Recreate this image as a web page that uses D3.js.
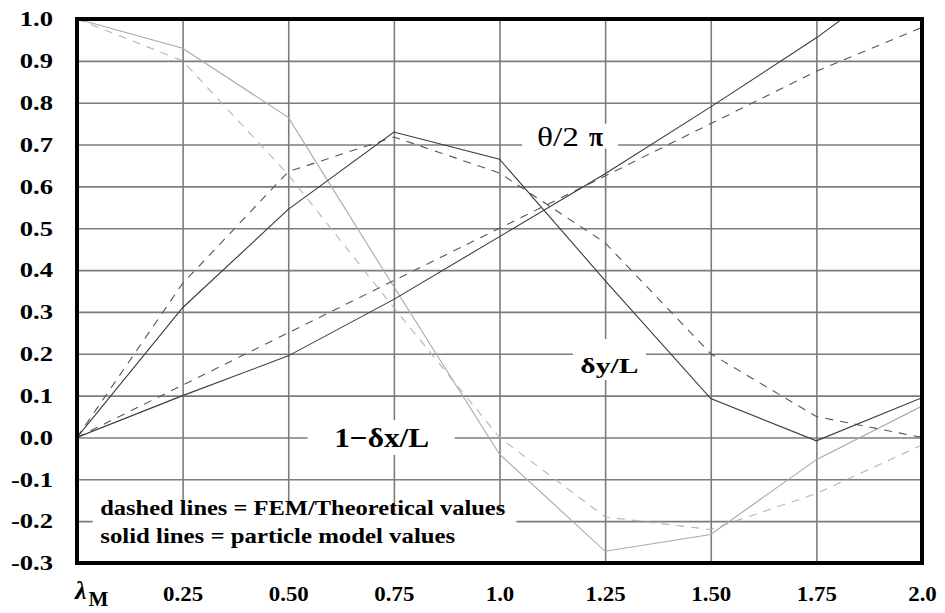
<!DOCTYPE html>
<html>
<head>
<meta charset="utf-8">
<script src="https://cdn.jsdelivr.net/npm/d3@7"></script>
<style>
  body { margin: 0; background: #fff; }
</style>
</head>
<body>
<script>
const width = 945, height = 613;
const margin = { left: 77, right: 23, top: 19, bottom: 50 };
const serif = "Liberation Serif";

// lambda_M values along x
const lambda = [0, 0.25, 0.5, 0.75, 1.0, 1.25, 1.5, 1.75, 2.0];
// theta / 2 pi
const thetaParticle = [0, 0.10, 0.195, 0.33, 0.48, 0.63, 0.79, 0.955, 1.14];
const thetaFEM = [0, 0.125, 0.25, 0.375, 0.5, 0.625, 0.75, 0.875, 0.98];
// delta y / L
const dyParticle = [0, 0.31, 0.545, 0.73, 0.665, 0.375, 0.093, -0.008, 0.095];
const dyFEM = [0, 0.368, 0.635, 0.718, 0.632, 0.465, 0.2, 0.05, 0.0];
// 1 - delta x / L
const dxParticle = [1.0, 0.93, 0.765, 0.36, -0.04, -0.272, -0.232, -0.053, 0.075];
const dxFEM = [1.0, 0.9, 0.628, 0.31, 0.0, -0.19, -0.22, -0.134, -0.018];

const xTicks = [0.25, 0.5, 0.75, 1.0, 1.25, 1.5, 1.75, 2.0];
const xLabels = ["0.25", "0.50", "0.75", "1.0", "1.25", "1.50", "1.75", "2.0"];
const yTicks = [1.0, 0.9, 0.8, 0.7, 0.6, 0.5, 0.4, 0.3, 0.2, 0.1, 0.0, -0.1, -0.2, -0.3];
const yLabels = ["1.0", "0.9", "0.8", "0.7", "0.6", "0.5", "0.4", "0.3", "0.2", "0.1", "0.0", "-0.1", "-0.2", "-0.3"];

const legendLines = ["dashed lines = FEM/Theoretical values", "solid lines = particle model values"];

const pw = width - margin.left - margin.right, ph = height - margin.top - margin.bottom;

const svg = d3.select("body").append("svg")
    .attr("width", width)
    .attr("height", height);

const x = d3.scaleLinear().domain([0, 2]).range([0, pw]);
const y = d3.scaleLinear().domain([-0.3, 1.0]).range([ph, 0]);

const g = svg.append("g").attr("transform", `translate(${margin.left},${margin.top})`);

svg.append("defs").append("clipPath").attr("id", "plotclip")
    .append("rect").attr("x", 0).attr("y", 0).attr("width", pw).attr("height", ph);

// grid + tick labels
const yAxis = g.append("g")
    .call(d3.axisLeft(y).tickValues(yTicks).tickFormat((d, i) => yLabels[i]).tickSize(-pw).tickPadding(0));
const xAxis = g.append("g")
    .attr("transform", `translate(0,${ph})`)
    .call(d3.axisBottom(x).tickValues(xTicks).tickFormat((d, i) => xLabels[i]).tickSize(-ph).tickPadding(22));

[yAxis, xAxis].forEach(a => {
    a.attr("font-family", serif).attr("font-weight", "bold");
    a.select(".domain").remove();
    a.selectAll(".tick line").attr("stroke", "#7c7c7c").attr("stroke-width", 1.6);
});
yAxis.selectAll(".tick text")
    .attr("x", null).attr("dy", "0.34em")
    .attr("transform", "translate(-24,0) scale(1.33,1)")
    .attr("font-size", 20).attr("fill", "#000");
xAxis.selectAll(".tick text")
    .attr("transform", "scale(1.04,1)")
    .attr("font-size", 22).attr("fill", "#000");

// label boxes knocking out the grid
function labelBox(cx, cy, w, h) {
    g.append("rect")
        .attr("x", x(cx) - w / 2).attr("y", y(cy) - h / 2)
        .attr("width", w).attr("height", h)
        .attr("fill", "#fff");
}
labelBox(1.167, 0.72, 96, 25);
labelBox(1.26, 0.186, 73, 41);
labelBox(0.72, 0.0, 147, 35);
g.append("rect")
    .attr("x", x(0.037)).attr("y", y(-0.18))
    .attr("width", x(1.04) - x(0.037)).attr("height", ph - y(-0.18))
    .attr("fill", "#fff");

// curves
const line = d3.line().x((d, i) => x(lambda[i])).y(d => y(d));
const series = [
    { v: dxFEM, color: "#b4b4b4", dash: "8,7" },
    { v: dxParticle, color: "#a8a8a8", dash: null },
    { v: thetaFEM, color: "#555", dash: "8,7" },
    { v: thetaParticle, color: "#3a3a3a", dash: null },
    { v: dyFEM, color: "#555", dash: "8,7" },
    { v: dyParticle, color: "#3a3a3a", dash: null }
];
const lines = g.append("g").attr("clip-path", "url(#plotclip)");
series.forEach(s => {
    lines.append("path")
        .datum(s.v)
        .attr("d", line)
        .attr("fill", "none")
        .attr("stroke", s.color)
        .attr("stroke-width", 1.1)
        .attr("stroke-dasharray", s.dash);
});

// curve labels
function label(px, cy, size, len, weight, txt) {
    return g.append("text")
        .attr("x", px).attr("y", y(cy))
        .attr("dy", "0.34em")
        .attr("textLength", len).attr("lengthAdjust", "spacingAndGlyphs")
        .attr("font-family", serif).attr("font-size", size).attr("font-weight", weight)
        .text(txt);
}
label(x(1.167) - 33, 0.72, 28, 42, "normal", "θ/2");
label(x(1.167) + 19, 0.72, 28, 14, "bold", "π");
label(x(1.26) - 29, 0.17, 21, 58, "bold", "δy/L");
label(x(0.72) - 47, 0.0, 28, 95, "bold", "1−δx/L");

// legend
const legendLen = [405, 355];
legendLines.forEach((t, i) => {
    g.append("text")
        .attr("x", x(0.055)).attr("y", y(-0.185) + i * 28)
        .attr("textLength", legendLen[i]).attr("lengthAdjust", "spacingAndGlyphs")
        .attr("font-family", serif).attr("font-size", 21).attr("font-weight", "bold")
        .text(t);
});

// frame
g.append("rect")
    .attr("width", pw).attr("height", ph)
    .attr("fill", "none").attr("stroke", "#000").attr("stroke-width", 4);

// lambda_M axis name
const lam = g.append("text")
    .attr("x", -2).attr("y", ph + 36)
    .attr("font-family", serif).attr("font-weight", "bold");
lam.append("tspan").attr("font-size", 26).attr("font-style", "italic").text("λ");
lam.append("tspan").attr("dy", 7).attr("dx", 2).attr("font-size", 21).text("M");
</script>
</body>
</html>
